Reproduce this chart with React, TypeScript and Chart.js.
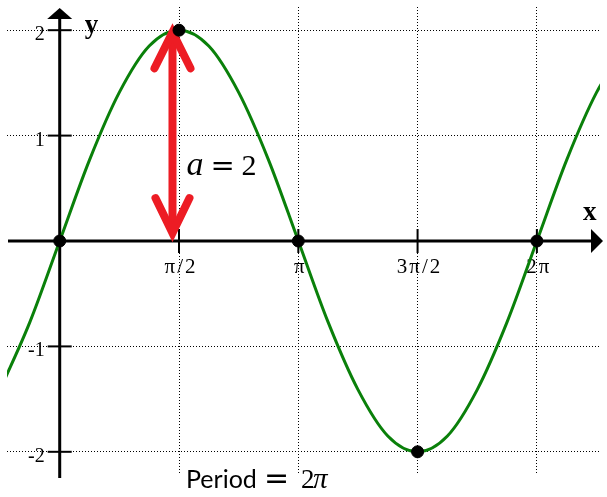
import React, { useEffect, useRef } from 'react';
import { Chart, registerables } from 'chart.js';

Chart.register(...registerables);

// Curve samples (y = 2 sin x)
const CURVE_X = [-0.785, -0.393, 0, 0.393, 0.785, 1.178, 1.571, 1.963, 2.356, 2.749, 3.142, 3.534, 3.927, 4.32, 4.712, 5.105, 5.498, 5.89, 6.283, 6.676, 7.069, 7.461];
const CURVE_Y = [-1.41, -0.77, 0, 0.77, 1.41, 1.85, 2, 1.85, 1.41, 0.77, 0, -0.77, -1.41, -1.85, -2, -1.85, -1.41, -0.77, 0, 0.77, 1.41, 1.85];

// Highlighted points
const KEY_X = [0, 1.571, 3.142, 4.712, 6.283];
const KEY_Y = [0, 2, 0, -2, 0];

// Ticks
const X_TICKS = [1.571, 3.142, 4.712, 6.283];
const X_TICK_LABELS = ['π/2', 'π', '3π/2', '2π'];
const Y_TICKS = [-2, -1, 1, 2];
const Y_TICK_LABELS = ['-2', '-1', '1', '2'];

// Ranges
const X_RANGE = [-0.694, 7.114];
const Y_RANGE = [-2.22, 2.22];

// Amplitude arrow
const ARROW_X = 1.485;
const ARROW_Y = [0.075, 1.98];

const RED = '#ED1C24';
const GREEN = '#0a800a';

const drawPlugin = {
  id: 'sineDecor',
  beforeDatasetsDraw(chart: any) {
    const { ctx, chartArea: ca, scales } = chart;
    const xs = scales.x;
    const ys = scales.y;
    const x0 = xs.getPixelForValue(0);
    const y0 = ys.getPixelForValue(0);
    ctx.save();
    ctx.strokeStyle = '#000';
    ctx.fillStyle = '#000';
    ctx.lineWidth = 3;
    ctx.lineCap = 'butt';
    // y axis
    ctx.beginPath();
    ctx.moveTo(x0, ca.bottom + 3);
    ctx.lineTo(x0, ca.top + 12);
    ctx.stroke();
    ctx.beginPath();
    ctx.moveTo(x0 - 12.5, ca.top + 12);
    ctx.lineTo(x0 + 12.5, ca.top + 12);
    ctx.lineTo(x0, ca.top + 1);
    ctx.closePath();
    ctx.fill();
    // x axis
    ctx.beginPath();
    ctx.moveTo(ca.left + 1, y0);
    ctx.lineTo(ca.right - 9, y0);
    ctx.stroke();
    ctx.beginPath();
    ctx.moveTo(ca.right - 9, y0 - 12);
    ctx.lineTo(ca.right - 9, y0 + 12);
    ctx.lineTo(ca.right + 3, y0);
    ctx.closePath();
    ctx.fill();
    // tick marks
    ctx.lineWidth = 2;
    Y_TICKS.forEach((v) => {
      const py = ys.getPixelForValue(v);
      ctx.beginPath();
      ctx.moveTo(x0 - 12, py);
      ctx.lineTo(x0 + 12, py);
      ctx.stroke();
    });
    X_TICKS.forEach((v) => {
      const px = xs.getPixelForValue(v);
      ctx.beginPath();
      ctx.moveTo(px, y0 - 12);
      ctx.lineTo(px, y0 + 12);
      ctx.stroke();
    });
    // tick labels
    ctx.font = '20px "Liberation Serif"';
    ctx.textBaseline = 'alphabetic';
    ctx.textAlign = 'right';
    Y_TICKS.forEach((v, i) => {
      ctx.fillText(Y_TICK_LABELS[i], x0 - 15, ys.getPixelForValue(v) + 10);
    });
    ctx.textAlign = 'center';
    ctx.font = '21px "Liberation Serif"';
    (ctx as any).letterSpacing = '2px';
    X_TICKS.forEach((v, i) => {
      ctx.fillText(X_TICK_LABELS[i], xs.getPixelForValue(v) + 2, y0 + 32);
    });
    (ctx as any).letterSpacing = '0px';
    // axis names
    ctx.font = 'bold 27px "Liberation Serif"';
    ctx.textAlign = 'left';
    ctx.fillText('y', x0 + 25, ca.top + 26);
    ctx.fillText('x', ca.right - 17, y0 - 21);
    ctx.restore();
  },
  afterDatasetDraw(chart: any, args: any) {
    if (args.index !== 1) return;
    const { ctx, scales } = chart;
    const ax = scales.x.getPixelForValue(ARROW_X);
    const yb = scales.y.getPixelForValue(ARROW_Y[0]);
    const yt = scales.y.getPixelForValue(ARROW_Y[1]);
    ctx.save();
    ctx.strokeStyle = RED;
    ctx.lineWidth = 8;
    ctx.lineCap = 'round';
    ctx.lineJoin = 'miter';
    ctx.beginPath();
    ctx.moveTo(ax, yt + 4);
    ctx.lineTo(ax, yb - 4);
    ctx.stroke();
    ctx.beginPath();
    ctx.moveTo(ax - 18, yt + 36);
    ctx.lineTo(ax, yt);
    ctx.lineTo(ax + 18, yt + 36);
    ctx.stroke();
    ctx.beginPath();
    ctx.moveTo(ax - 17, yb - 35);
    ctx.lineTo(ax, yb);
    ctx.lineTo(ax + 17, yb - 35);
    ctx.stroke();
    ctx.restore();
  },
  afterDraw(chart: any) {
    const { ctx, chartArea: ca, scales } = chart;
    const ax = scales.x.getPixelForValue(ARROW_X);
    ctx.save();
    ctx.fillStyle = '#000';
    ctx.textBaseline = 'alphabetic';
    ctx.textAlign = 'left';
    // a = 2
    const by = 175;
    ctx.font = 'italic 34px "Liberation Serif"';
    ctx.fillText('a', ax + 14, by);
    ctx.font = '29px "DejaVu Sans"';
    ctx.fillText('=', ax + 38, by);
    ctx.font = '30px "Liberation Serif"';
    ctx.fillText('2', ax + 69, by);
    // Period = 2π
    const py = ca.bottom + 13;
    ctx.font = '25px Lato';
    ctx.fillText('Period', 186, py);
    ctx.font = '30px "DejaVu Sans"';
    ctx.fillText('=', 264, py);
    ctx.font = '27px "Liberation Serif"';
    ctx.fillText('2', 301, py);
    ctx.font = 'italic 29px "Liberation Serif"';
    ctx.fillText('π', 313, py);
    ctx.restore();
  },
};

export default function App() {
  const ref = useRef<HTMLCanvasElement | null>(null);
  useEffect(() => {
    if (!ref.current) return;
    const chart = new Chart(ref.current, {
      type: 'scatter',
      data: {
        datasets: [
          {
            data: KEY_X.map((x, i) => ({ x, y: KEY_Y[i] })),
            pointRadius: 6,
            pointBackgroundColor: '#000',
            pointBorderColor: '#000',
            pointBorderWidth: 1,
            showLine: false,
          },
          {
            data: CURVE_X.map((x, i) => ({ x, y: CURVE_Y[i] })),
            showLine: true,
            borderColor: GREEN,
            borderWidth: 3,
            pointRadius: 0,
            cubicInterpolationMode: 'monotone',
          },
        ],
      },
      options: {
        animation: false,
        responsive: false,
        events: [],
        layout: { padding: { left: 5, top: 5, right: 0, bottom: 22 } },
        plugins: { legend: { display: false }, tooltip: { enabled: false } },
        scales: {
          x: {
            type: 'linear',
            min: X_RANGE[0],
            max: X_RANGE[1],
            afterBuildTicks: (s: any) => {
              s.ticks = X_TICKS.map((v) => ({ value: v }));
            },
            ticks: { display: false },
            grid: { color: '#000', lineWidth: 1, drawTicks: false },
            border: { display: false, dash: [1, 2] },
          },
          y: {
            type: 'linear',
            min: Y_RANGE[0],
            max: Y_RANGE[1],
            afterBuildTicks: (s: any) => {
              s.ticks = Y_TICKS.map((v) => ({ value: v }));
            },
            ticks: { display: false },
            grid: { color: '#000', lineWidth: 1, drawTicks: false },
            border: { display: false, dash: [1, 2] },
          },
        },
      },
      plugins: [drawPlugin],
    } as any);
    return () => chart.destroy();
  }, []);
  return (
    <div style={{ position: 'absolute', left: 0, top: 0, width: 607, height: 497 }}>
      <canvas ref={ref} width={607} height={497} />
    </div>
  );
}
